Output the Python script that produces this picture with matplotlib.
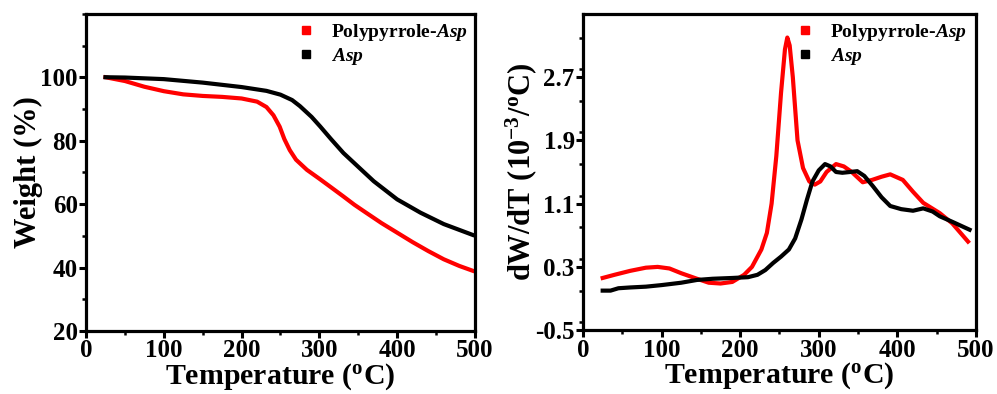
import matplotlib
matplotlib.use("Agg")
import matplotlib.pyplot as plt
from matplotlib.lines import Line2D
from matplotlib.ticker import MultipleLocator

plt.rcParams["font.family"] = ["Liberation Serif", "DejaVu Serif"]
plt.rcParams["font.weight"] = "bold"
plt.rcParams["mathtext.fontset"] = "custom"
plt.rcParams["mathtext.rm"] = "Liberation Serif:bold"
plt.rcParams["mathtext.it"] = "Liberation Serif:italic:bold"
plt.rcParams["mathtext.bf"] = "Liberation Serif:bold"

# TGA (weight %)
TGA_PPY_T = [25, 50, 75, 100, 125, 150, 175, 200, 220, 232, 241, 249, 255, 262,
             270, 284, 300, 315, 331, 345, 360, 380, 400, 420, 440, 460, 480, 497]
TGA_PPY_W = [100, 98.8, 97.0, 95.6, 94.6, 94.1, 93.8, 93.3, 92.3, 90.6, 88.0, 84.4, 80.5, 77.0,
             74.0, 70.8, 68.0, 65.3, 62.4, 59.8, 57.3, 54.0, 51.0, 48.0, 45.2, 42.6, 40.5, 39.0]

TGA_ASP_T = [25, 50, 100, 150, 200, 232, 250, 265, 275, 290, 301, 315, 331, 352,
             370, 400, 430, 460, 497]
TGA_ASP_W = [100, 99.9, 99.4, 98.3, 96.9, 95.7, 94.5, 92.8, 90.9, 87.5, 84.5, 80.5, 76.1, 71.3,
             67.2, 61.5, 57.3, 53.7, 50.3]

# DTG (dW/dT)
DTG_PPY_T = [25, 40, 60, 80, 95, 110, 125, 145, 160, 175, 190, 205, 215, 227, 234, 240,
             246, 252, 257, 260, 263, 267, 273, 280, 288, 295, 302, 310, 322, 332, 342,
             356, 368, 380, 391, 407, 420, 433, 454, 470, 490]
DTG_PPY_V = [0.16, 0.20, 0.25, 0.29, 0.30, 0.28, 0.22, 0.15, 0.10, 0.09, 0.11, 0.20, 0.30,
             0.52, 0.73, 1.10, 1.70, 2.50, 3.05, 3.20, 3.10, 2.70, 1.90, 1.55, 1.38, 1.34,
             1.38, 1.50, 1.60, 1.57, 1.50, 1.37, 1.40, 1.44, 1.47, 1.40, 1.25, 1.11, 0.98,
             0.85, 0.62]

DTG_ASP_T = [25, 35, 45, 60, 80, 100, 125, 145, 165, 190, 210, 222, 232, 242, 252, 262,
             270, 278, 285, 292, 300, 308, 315, 322, 330, 340, 349, 358, 369, 380, 391,
             405, 420, 433, 445, 454, 470, 492]
DTG_ASP_V = [0.0, 0.0, 0.03, 0.04, 0.05, 0.07, 0.10, 0.135, 0.15, 0.16, 0.17, 0.20, 0.26,
             0.35, 0.43, 0.52, 0.66, 0.90, 1.15, 1.38, 1.52, 1.60, 1.57, 1.50, 1.49, 1.50,
             1.51, 1.45, 1.32, 1.18, 1.07, 1.03, 1.01, 1.04, 1.00, 0.94, 0.87, 0.77]

LABELS = ["Polypyrrole-$\\mathit{Asp}$", "$\\mathit{Asp}$"]
COLORS = ["#ff0000", "#000000"]


def style_axes(ax):
    for s in ax.spines.values():
        s.set_linewidth(2.3)
    ax.tick_params(which="major", direction="out", length=5, width=2.2,
                   labelsize=18, pad=1)
    ax.tick_params(which="minor", direction="out", length=3, width=1.8)
    for lab in ax.get_xticklabels() + ax.get_yticklabels():
        lab.set_fontweight("bold")


def add_legend(ax):
    handles = [Line2D([], [], ls="none", marker="s", ms=6, color=c) for c in COLORS]
    ax.legend(handles, LABELS, loc="upper left", bbox_to_anchor=(0.50, 1.03),
              frameon=False, handlelength=0.8, handletextpad=0.9,
              labelspacing=0.15, prop={"size": 14, "weight": "bold"})


fig = plt.figure(figsize=(9.97, 3.94), dpi=100)

ax1 = fig.add_axes([0.0863, 0.160, 0.390, 0.805])
ax1.plot(TGA_PPY_T, TGA_PPY_W, color=COLORS[0], lw=3, solid_joinstyle="round")
ax1.plot(TGA_ASP_T, TGA_ASP_W, color=COLORS[1], lw=3, solid_joinstyle="round")
ax1.set_xlim(0, 500)
ax1.set_ylim(20, 120)
ax1.xaxis.set_major_locator(MultipleLocator(100))
ax1.xaxis.set_minor_locator(MultipleLocator(50))
ax1.set_yticks([20, 40, 60, 80, 100])
ax1.yaxis.set_minor_locator(MultipleLocator(10))
ax1.set_xlabel("Temperature ($^{\\mathrm{o}}$C)", fontsize=21.5, fontweight="bold", labelpad=-1)
ax1.set_ylabel("Weight (%)", fontsize=22, fontweight="bold", labelpad=-2)
style_axes(ax1)
add_legend(ax1)

ax2 = fig.add_axes([0.5848, 0.162, 0.394, 0.803])
ax2.plot(DTG_PPY_T, DTG_PPY_V, color=COLORS[0], lw=3, solid_joinstyle="round")
ax2.plot(DTG_ASP_T, DTG_ASP_V, color=COLORS[1], lw=3, solid_joinstyle="round")
ax2.set_xlim(0, 500)
ax2.set_ylim(-0.5, 3.5)
ax2.xaxis.set_major_locator(MultipleLocator(100))
ax2.xaxis.set_minor_locator(MultipleLocator(50))
ax2.set_yticks([-0.5, 0.3, 1.1, 1.9, 2.7])
ax2.set_yticklabels(["-0.5", "0.3", "1.1", "1.9", "2.7"])
ax2.yaxis.set_minor_locator(MultipleLocator(0.4))
ax2.set_xlabel("Temperature ($^{\\mathrm{o}}$C)", fontsize=21.5, fontweight="bold", labelpad=-1)
ax2.set_ylabel("dW/dT (10$^{-3}$/$^{\\mathrm{o}}$C)", fontsize=22, fontweight="bold", labelpad=-3)
style_axes(ax2)
add_legend(ax2)

fig.savefig("out.png", dpi=100)
